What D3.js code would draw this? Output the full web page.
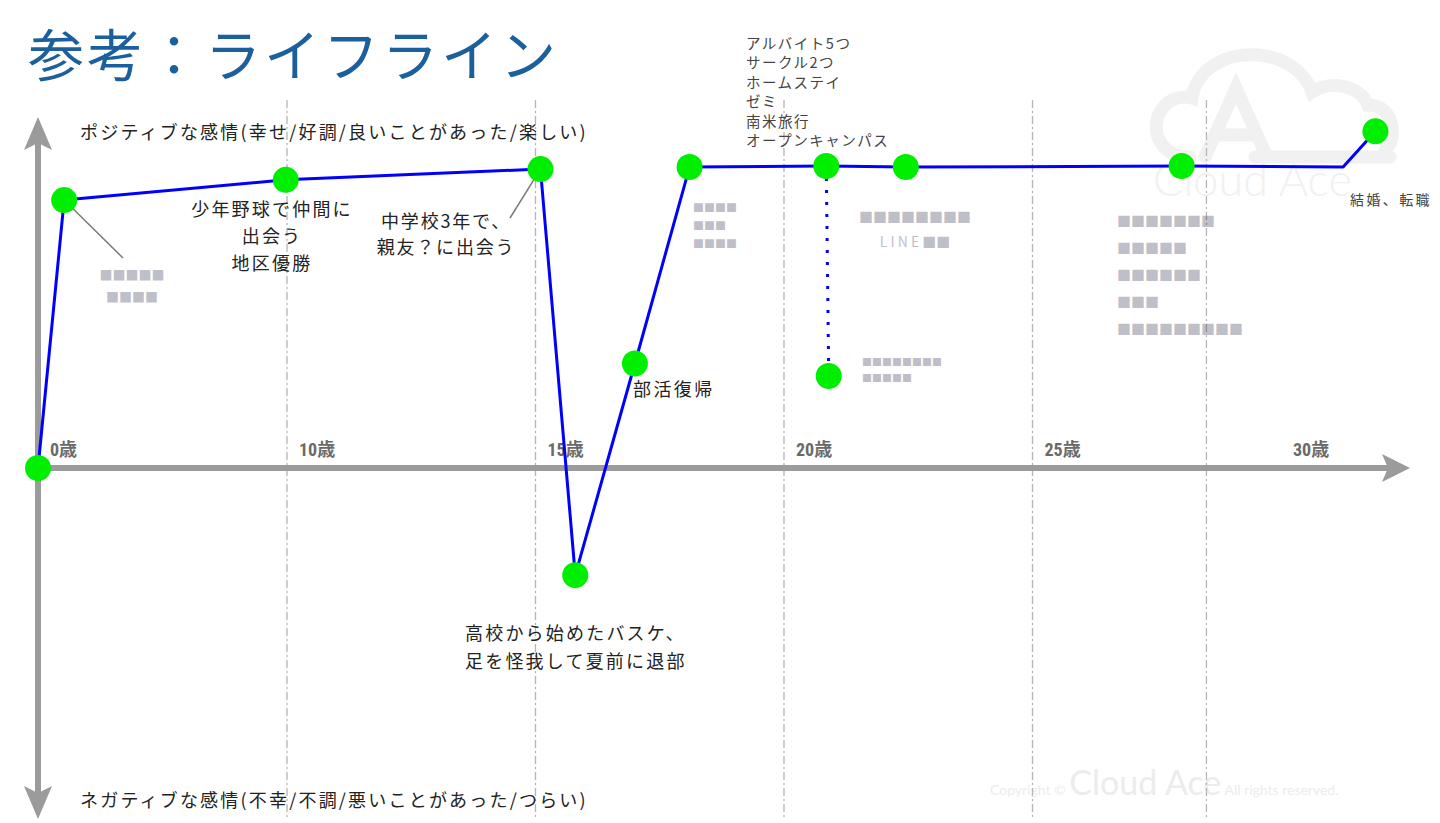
<!DOCTYPE html>
<html><head><meta charset="utf-8">
<script src="https://cdn.jsdelivr.net/npm/d3@7"></script>
<style>
html,body{margin:0;padding:0;background:#fff;}
svg{display:block;}
</style></head>
<body>
<svg id="chart" width="1440" height="823"></svg>
<script>
// ---- data ----
const title = "参考：ライフライン";
const positiveLabel = "ポジティブな感情(幸せ/好調/良いことがあった/楽しい)";
const negativeLabel = "ネガティブな感情(不幸/不調/悪いことがあった/つらい)";
const tickAges = [0, 10, 15, 20, 25, 30];
const tickLabels = ["0歳", "10歳", "15歳", "20歳", "25歳", "30歳"];
const gridAges = [10, 15, 20, 25, 28.5];
const ages   = [0, 1.05, 9.95, 15.1, 15.8, 17.0, 18.1, 20.85, 22.45, 28.0, 31.25, 31.9];
const scores = [0, 79.5, 85.5, 88.7, -31.8, 31.0, 89.3, 89.6, 89.3, 89.6, 89.3, 99.9];
const markers = [1, 1, 1, 1, 1, 1, 1, 1, 1, 1, 0, 1];
const branchAges = [20.85, 20.9];
const branchScores = [89.6, 27.3];
const eventList = ["アルバイト5つ", "サークル2つ", "ホームステイ", "ゼミ", "南米旅行", "オープンキャンパス"];
const note1 = ["少年野球で仲間に", "出会う", "地区優勝"];
const note2 = ["中学校3年で、", "親友？に出会う"];
const note3 = ["部活復帰"];
const note4 = ["高校から始めたバスケ、", "足を怪我して夏前に退部"];
const note5 = ["結婚、転職"];

// ---- layout ----
const svg = d3.select("#chart");
const x = d3.scaleLinear().domain([0, 10, 30]).range([38, 287, 1281]);
const y = d3.scaleLinear().domain([0, 100]).range([468, 131]);
const jp = "'Noto Sans CJK JP','Noto Sans',sans-serif";
const axisColor = "#9b9b9b";

// watermark
const wm = svg.append("g").attr("fill", "none").attr("stroke", "#f1f1f1").attr("stroke-width", 13).attr("stroke-linecap", "round");
wm.append("path").attr("d",
  "M1190,157 C1160,157 1150,130 1160,112 C1168,98 1182,95 1192,98 C1196,70 1225,52 1258,55 C1285,57 1305,72 1312,92 C1330,80 1360,85 1368,105 C1395,105 1398,140 1385,150 M1390,157 L1255,157");
wm.append("path").attr("d", "M1205,157 L1236,88 L1267,157 M1216,135 L1256,135");
svg.append("text").attr("x", 1153).attr("y", 196).attr("font-family", "Lato,'Open Sans',sans-serif").attr("font-weight", 300)
  .attr("font-size", 45).attr("fill", "#f1f1f1").text("Cloud Ace");
const cp = svg.append("text").attr("x", 990).attr("y", 795).attr("fill", "#ececec").attr("font-family", "Lato,'Open Sans',sans-serif");
cp.append("tspan").attr("font-size", 14).text("Copyright © ");
cp.append("tspan").attr("font-size", 34).text("Cloud Ace");
cp.append("tspan").attr("font-size", 14).text(" All rights reserved.");

// grid lines
svg.append("g").selectAll("line").data(gridAges).join("line")
  .attr("x1", d => x(d)).attr("x2", d => x(d)).attr("y1", 100).attr("y2", 820)
  .attr("stroke", "#b5b5b5").attr("stroke-width", 1.3).attr("stroke-dasharray", "8,3,2,3");

// title
svg.append("text").attr("x", 28).attr("y", 76).attr("font-family", jp).attr("font-size", 56).attr("letter-spacing", 3)
  .attr("fill", "#1b5f9c").text(title);

// axes
svg.append("line").attr("x1", 38).attr("x2", 1390).attr("y1", y(0)).attr("y2", y(0)).attr("stroke", axisColor).attr("stroke-width", 6);
svg.append("line").attr("x1", 38).attr("x2", 38).attr("y1", 140).attr("y2", 795).attr("stroke", axisColor).attr("stroke-width", 6);
svg.append("path").attr("d", `M1410,${y(0)} L1382,${y(0)-14} L1388,${y(0)} L1382,${y(0)+14} Z`).attr("fill", axisColor);
svg.append("path").attr("d", "M38,117 L24,150 L38,143 L52,150 Z").attr("fill", axisColor);
svg.append("path").attr("d", "M38,819 L24,786 L38,793 L52,786 Z").attr("fill", axisColor);

// axis labels
svg.append("text").attr("x", 80).attr("y", 139).attr("font-family", jp).attr("font-size", 18).attr("letter-spacing", 2.2).attr("fill", "#222").text(positiveLabel);
svg.append("text").attr("x", 80).attr("y", 807).attr("font-family", jp).attr("font-size", 18).attr("letter-spacing", 2.2).attr("fill", "#222").text(negativeLabel);

// tick labels
svg.append("g").selectAll("text").data(tickAges).join("text")
  .attr("x", d => x(d) + 12).attr("y", 456)
  .attr("font-family", "'Liberation Sans Narrow','Roboto Condensed','Noto Sans CJK JP',sans-serif")
  .attr("font-weight", "bold").attr("font-size", 18).attr("fill", "#6a6a6a")
  .text((d, i) => tickLabels[i]);

// connectors
const conn = svg.append("g").attr("stroke", "#7a7a7a").attr("stroke-width", 1.5);
conn.append("line").attr("x1", x(ages[1])).attr("y1", y(scores[1])).attr("x2", 123).attr("y2", 258);
conn.append("line").attr("x1", x(ages[3])).attr("y1", y(scores[3])).attr("x2", 510).attr("y2", 218);

// life line
const line = d3.line().x((d, i) => x(ages[i])).y((d, i) => y(scores[i]));
svg.append("path").datum(ages).attr("d", line).attr("fill", "none").attr("stroke", "#0000ff").attr("stroke-width", 3).attr("stroke-linejoin", "round");
const bline = d3.line().x((d, i) => x(branchAges[i])).y((d, i) => y(branchScores[i]));
svg.append("path").datum(branchAges).attr("d", bline).attr("fill", "none").attr("stroke", "#0000ff").attr("stroke-width", 3).attr("stroke-dasharray", "3,9");

// markers
const pts = ages.map((a, i) => ({a, s: scores[i], m: markers[i]})).filter(d => d.m)
  .concat([{a: branchAges[1], s: branchScores[1]}]);
svg.append("g").selectAll("circle").data(pts).join("circle")
  .attr("cx", d => x(d.a)).attr("cy", d => y(d.s)).attr("r", 13).attr("fill", "#00ee00");

// notes
function note(lines, xx, yy, size, ls, spacing, anchor, color) {
  const t = svg.append("text").attr("font-family", jp).attr("font-size", size).attr("letter-spacing", ls)
    .attr("fill", color || "#222").attr("text-anchor", anchor || "start");
  lines.forEach((l, i) => t.append("tspan").attr("x", xx).attr("y", yy + i * spacing).text(l));
}
note(eventList, 746, 49, 14.5, 1.5, 19.4, "start", "#444");
note(note1, 272, 216, 18, 2.2, 27, "middle");
note(note2, 446, 228, 18, 1.8, 26, "middle");
note(note3, 633, 396, 18, 2.4, 26, "start");
note(note4, 465, 640, 18, 2.2, 28, "start");
note(note5, 1350, 205, 14, 2.4, 20, "start", "#444");

// obscured (mosaic) labels
const blur = (lines, xx, yy, size, spacing, anchor) => {
  const t = svg.append("text").attr("font-family", jp).attr("font-size", size).attr("fill", "#3a3a5a").attr("opacity", 0.32)
    .attr("text-anchor", anchor || "start").attr("letter-spacing", 0);
  lines.forEach((l, i) => t.append("tspan").attr("x", xx).attr("y", yy + i * spacing).text(l));
};
blur(["■■■■■", "■■■■"], 132, 280, 13, 22, "middle");
blur(["■■■■", "■■■", "■■■■"], 693, 212, 11, 18);
blur(["■■■■■■■■", "L I N E ■■"], 915, 222, 14, 25, "middle");
blur(["■■■■■■■■", "■■■■■"], 862, 366, 10, 16);
blur(["■■■■■■■", "■■■■■", "■■■■■■", "■■■", "■■■■■■■■■"], 1117, 226, 14, 27);
</script>
</body></html>
